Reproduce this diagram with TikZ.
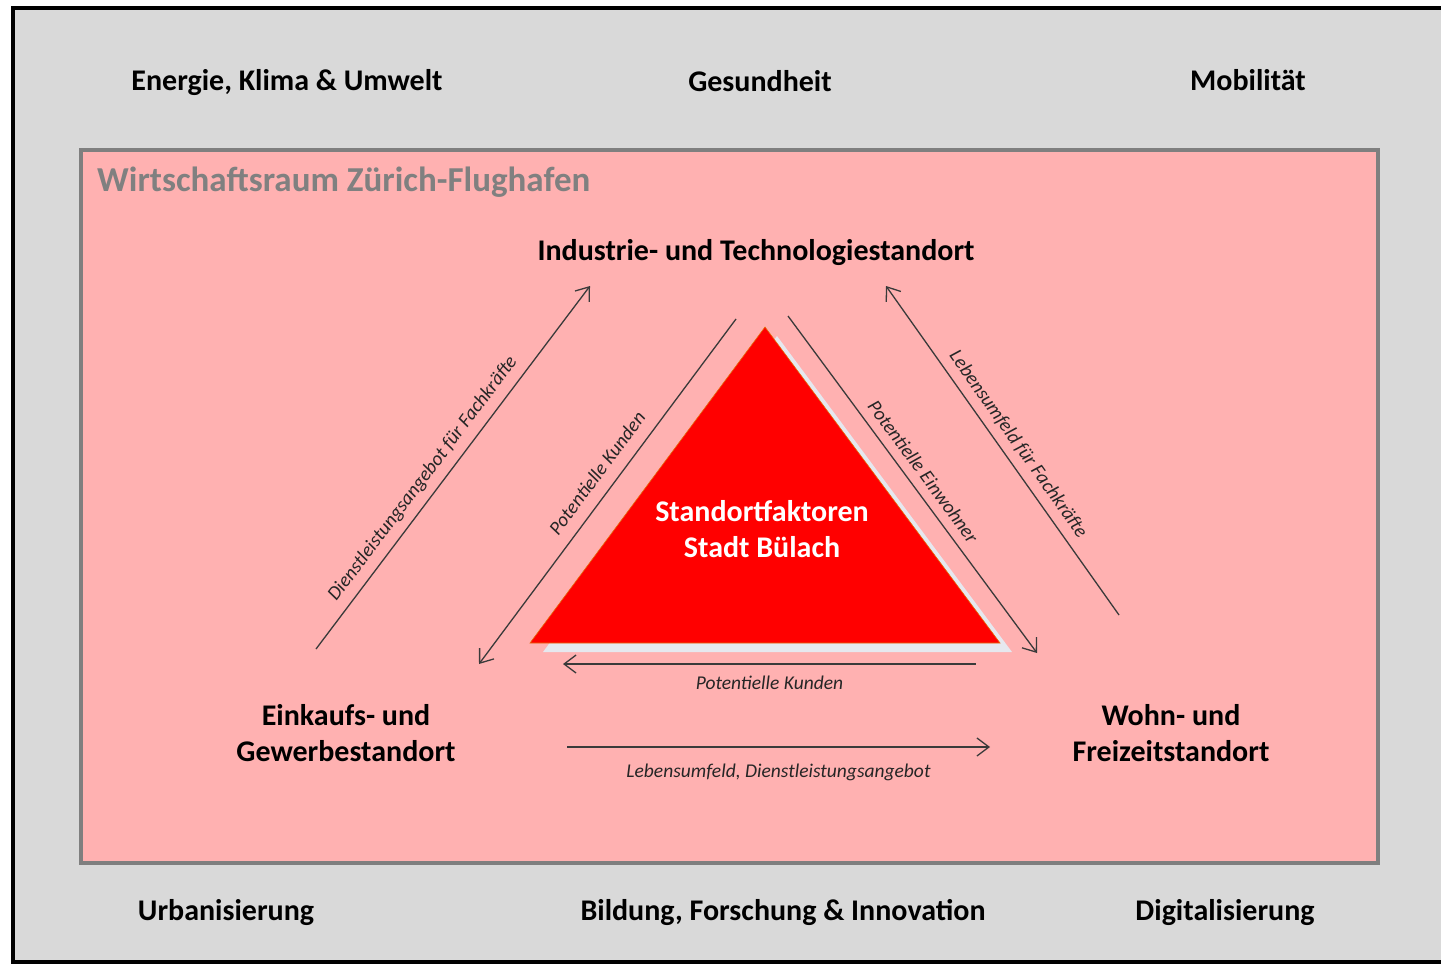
\documentclass[tikz,border=0pt]{standalone}
\usepackage{fontspec}
\setmainfont{Carlito}
\usetikzlibrary{arrows.meta}
\definecolor{bggrey}{HTML}{D9D9D9}
\definecolor{pinkfill}{HTML}{FFB1B1}
\definecolor{frame}{HTML}{7F7F7F}
\definecolor{titlegrey}{HTML}{808080}
\definecolor{trired}{HTML}{FF0000}
\definecolor{triedge}{HTML}{E46C0A}
\definecolor{shadowc}{HTML}{E6E8EF}
\definecolor{arrowc}{HTML}{3A3A3A}
\begin{document}
\begin{tikzpicture}[x=1pt,y=-1pt,
  bigtxt/.style={font=\fontsize{30}{36}\selectfont\bfseries, text=black, inner sep=0pt, align=center},
  lbl/.style={font=\fontsize{19.5}{22}\selectfont\itshape, text=black!85, inner sep=5pt},
  flow/.style={draw=arrowc, line width=1.3pt, -{Straight Barb[length=12pt,width=18pt,line width=1.3pt]}},
  flowback/.style={draw=arrowc, line width=1.3pt, {Straight Barb[length=12pt,width=18pt,line width=1.3pt]}-}]
\useasboundingbox (0,0) rectangle (1441,966);
% outer frame
\fill[bggrey] (13,8) rectangle (1441,962);
\draw[line width=4pt, black] (1441,8) -- (13,8) -- (13,962) -- (1441,962);
% inner region
\draw[fill=pinkfill, draw=frame, line width=4pt] (81,150) rectangle (1378,863);
\node[anchor=base west, inner sep=0pt, font=\fontsize{35}{40}\selectfont\bfseries, text=titlegrey] (title) at (97,191) {Wirtschaftsraum Zürich-Flughafen};
% top and bottom themes
\node[bigtxt, anchor=base] (energie) at (287,91) {Energie, Klima \& Umwelt};
\node[bigtxt, anchor=base] (gesund) at (760,92) {Gesundheit};
\node[bigtxt, anchor=base] (mobil) at (1248,91) {Mobilität};
\node[bigtxt, anchor=base] (urban) at (226,920) {Urbanisierung};
\node[bigtxt, anchor=base] (bildung) at (783,920) {Bildung, Forschung \& Innovation};
\node[bigtxt, anchor=base] (digital) at (1225,920) {Digitalisierung};
% triangle
\fill[shadowc] (777,336) -- (1012,652) -- (543,652) -- cycle;
\filldraw[fill=trired, draw=triedge, line width=0.6pt] (765,327) -- (1000,643) -- (530,643) -- cycle;
\node[bigtxt, text=white] (center) at (762,529) {Standortfaktoren\\Stadt Bülach};
% location nodes
\node[bigtxt, anchor=base] (industrie) at (756,260) {Industrie- und Technologiestandort};
\node[bigtxt] (einkauf) at (346,733) {Einkaufs- und\\Gewerbestandort};
\node[bigtxt] (wohn) at (1171,733) {Wohn- und\\Freizeitstandort};
% arrow end coordinates
\coordinate (lo1) at (316,649);
\coordinate (lo2) at (590,286);
\coordinate (li1) at (479,664);
\coordinate (li2) at (736,319);
\coordinate (ri1) at (788,316);
\coordinate (ri2) at (1037,653);
\coordinate (ro1) at (886,286);
\coordinate (ro2) at (1119,615);
\coordinate (bu1) at (563,664);
\coordinate (bu2) at (976,664);
\coordinate (bl1) at (567,747);
\coordinate (bl2) at (990,747);
% arrows
\draw[flow] (lo1) -- node[lbl, sloped, above, pos=0.44, inner sep=8pt] (lab1) {Dienstleistungsangebot für Fachkräfte} (lo2);
\draw[flowback] (li1) -- node[lbl, sloped, above, pos=0.52, inner sep=12pt] (lab2) {Potentielle Kunden} (li2);
\draw[flow] (ri1) -- node[lbl, sloped, above, pos=0.49, inner sep=9pt] (lab3) {Potentielle Einwohner} (ri2);
\draw[flowback] (ro1) -- node[lbl, sloped, above, pos=0.51, inner sep=8pt] (lab4) {Lebensumfeld für Fachkräfte} (ro2);
\draw[flowback] (bu1) -- node[lbl, below, midway, inner sep=11pt] (lab5) {Potentielle Kunden} (bu2);
\draw[flow] (bl1) -- node[lbl, below, midway, inner sep=16pt] (lab6) {Lebensumfeld, Dienstleistungsangebot} (bl2);
\end{tikzpicture}
\end{document}
